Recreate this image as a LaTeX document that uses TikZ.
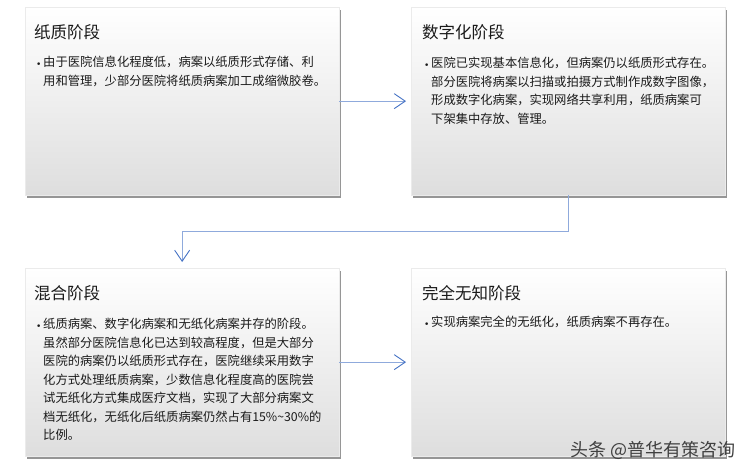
\documentclass[tikz,border=0pt]{standalone}
\usepackage{fontspec}
\setmainfont{Noto Sans CJK SC}
\newfontfamily\dotfont{DejaVu Sans}
\usepackage{tikz}
\usetikzlibrary{arrows.meta,positioning,calc,shadows}
\definecolor{flowBlue}{HTML}{8FAADC}
\definecolor{tipBlue}{HTML}{4472C4}
\definecolor{inkGray}{HTML}{1A1A1A}

\begin{document}
\begin{tikzpicture}[x=1pt,y=1pt,
    stagebox/.style={anchor=north west,minimum width=314pt,minimum height=188pt,inner sep=0pt,
      top color=white,middle color=white,bottom color=black!13,draw=black!8,line width=0.3pt,
      drop shadow={shadow xshift=1.5pt,shadow yshift=-2.5pt,fill=black!75,opacity=.55}},
    stagetitle/.style={anchor=west,inner sep=0pt,text=inkGray,font=\fontsize{16.5}{20}\selectfont},
    stagedot/.style={anchor=base west,inner sep=0pt,text=inkGray,font=\dotfont\fontsize{9}{10}\selectfont},
    stagetext/.style={anchor=north west,inner sep=0pt,text width=300pt,align=left,text=inkGray,
      font=\fontsize{12.3}{18.5}\selectfont},
    flow/.style={draw=flowBlue,line width=1.3pt,-{Straight Barb[length=11pt,width=15pt,line width=0.9pt,color=tipBlue]}}]
  \useasboundingbox (0,0) rectangle (750,-474);

  % four stages
  \node[stagebox] (paper) at (25,-7) {};
  \node[stagebox] (digital) at (411,-7) {};
  \node[stagebox] (mixed) at (25,-268) {};
  \node[stagebox] (paperless) at (411,-268) {};

  \node[stagetitle] (paperT) at ($(paper.north west)+(9,-25)$) {纸质阶段};
  \node[stagetext] (paperB) at ($(paper.north west)+(18,-49)$)
    {由于医院信息化程度低，病案以纸质形式存储、利\\
     用和管理，少部分医院将纸质病案加工成缩微胶卷。};
  \node[stagedot] (paperD) at ($(paperB.north west)+(-7,-11)$) {•};

  \node[stagetitle] (digitalT) at ($(digital.north west)+(11,-25)$) {数字化阶段};
  \node[stagetext] (digitalB) at ($(digital.north west)+(20,-50)$)
    {医院已实现基本信息化，但病案仍以纸质形式存在。\\
     部分医院将病案以扫描或拍摄方式制作成数字图像，\\
     形成数字化病案，实现网络共享利用，纸质病案可\\
     下架集中存放、管理。};
  \node[stagedot] (digitalD) at ($(digitalB.north west)+(-7,-11)$) {•};

  \node[stagetitle] (mixedT) at ($(mixed.north west)+(9,-25)$) {混合阶段};
  \node[stagetext] (mixedB) at ($(mixed.north west)+(18,-50)$)
    {纸质病案、数字化病案和无纸化病案并存的阶段。\\
     虽然部分医院信息化已达到较高程度，但是大部分\\
     医院的病案仍以纸质形式存在，医院继续采用数字\\
     化方式处理纸质病案，少数信息化程度高的医院尝\\
     试无纸化方式集成医疗文档，实现了大部分病案文\\
     档无纸化，无纸化后纸质病案仍然占有15\%\textasciitilde30\%的\\
     比例。};
  \node[stagedot] (mixedD) at ($(mixedB.north west)+(-7,-11)$) {•};

  \node[stagetitle] (paperlessT) at ($(paperless.north west)+(11,-25)$) {完全无知阶段};
  \node[stagetext] (paperlessB) at ($(paperless.north west)+(20,-48)$)
    {实现病案完全的无纸化，纸质病案不再存在。};
  \node[stagedot] (paperlessD) at ($(paperlessB.north west)+(-7,-11)$) {•};

  % connectors
  \draw[flow,shorten >=5pt] (paper) -- (digital);
  \draw[flow,shorten >=6pt] (digital.south) -- ++(0,-36) -| (mixed.north);
  \draw[flow,shorten >=5pt] (mixed) -- (paperless);

  \node[anchor=east,inner sep=0pt,text=black!75,font=\fontsize{18}{20}\selectfont] (mark)
    at (736,-450) {头条 @普华有策咨询};
\end{tikzpicture}
\end{document}
